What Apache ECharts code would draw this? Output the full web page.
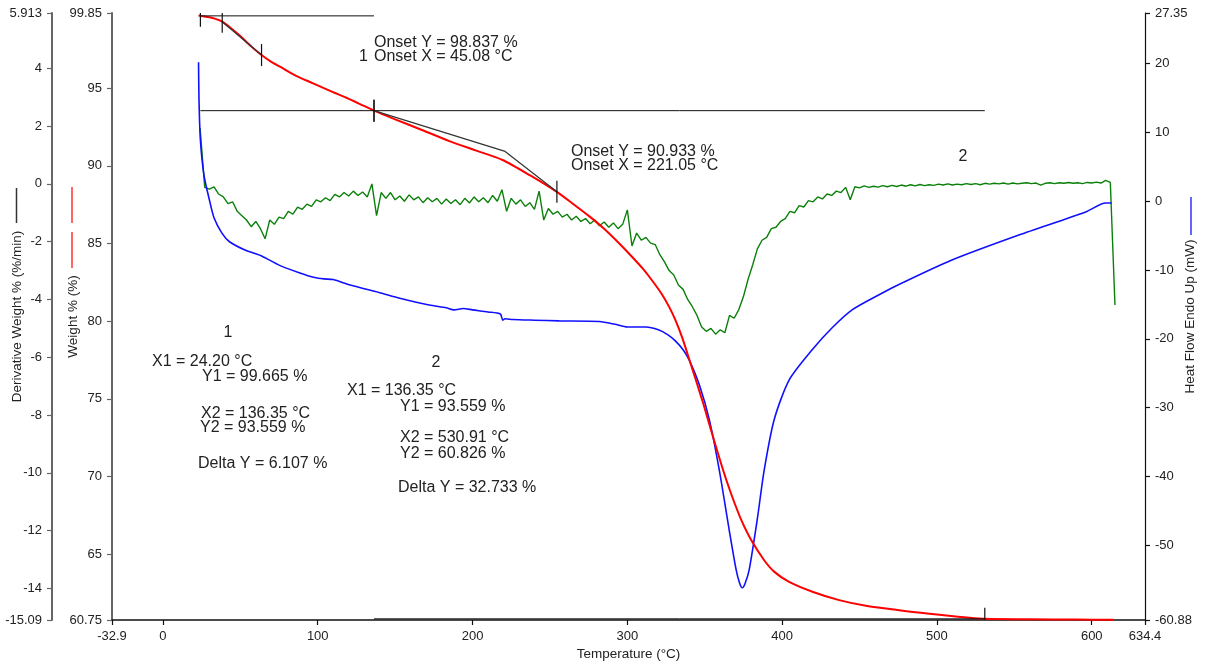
<!DOCTYPE html>
<html>
<head>
<meta charset="utf-8">
<title>TGA / DSC</title>
<script src="https://cdn.jsdelivr.net/npm/echarts@6/dist/echarts.min.js"></script>
<style>
  html, body { margin: 0; padding: 0; background: #ffffff; }
  #chart { width: 1205px; height: 668px; }
</style>
</head>
<body>
<div id="chart"></div>
<script>
// ---- axis ticks ----
const tempTicks = [-32.9, 0, 100, 200, 300, 400, 500, 600, 634.4];
const weightTicks = [60.75, 65, 70, 75, 80, 85, 90, 95, 99.85];
const derivTicks = [-15.09, -14, -12, -10, -8, -6, -4, -2, 0, 2, 4, 5.913];
const heatTicks = [-60.88, -50, -40, -30, -20, -10, 0, 10, 20, 27.35];

// ---- weight % (TGA) ----
const weightTemps = [23, 24.2, 30, 34, 38.3, 44, 50.5, 57, 63.7, 70, 75.6, 86, 97, 108, 118.5, 127,
  136.35, 150, 167.7, 185, 202, 219.4, 237, 254.2, 265, 275.5, 285, 294.8, 303, 310, 316, 322,
  327, 331, 335.5, 341, 348.4, 354, 359.4, 364, 369, 374, 380, 388.4, 395, 404.5, 420, 436.8,
  455, 475.5, 500, 530.91, 560, 590, 614];
const weightPct = [99.70, 99.665, 99.58, 99.47, 99.29, 98.87, 98.32, 97.70, 97.14, 96.70, 96.39, 95.80,
  95.32, 94.83, 94.39, 94.00, 93.559, 93.00, 92.30, 91.60, 91.00, 90.38, 89.40, 88.34, 87.55, 86.75,
  85.95, 85.00, 84.15, 83.38, 82.62, 81.78, 80.92, 80.08, 78.92, 77.22, 74.90, 73.00, 71.20, 69.75,
  68.35, 67.10, 65.90, 64.60, 63.85, 63.20, 62.55, 62.03, 61.65, 61.38, 61.10, 60.826, 60.80, 60.78, 60.76];

// ---- heat flow endo up (mW) ----
const heatTemps = [23, 23.3, 24.2, 26.5, 30, 33, 38, 43, 53, 64, 75, 88, 98, 104, 110, 121, 140, 153,
  172, 183, 188, 194, 200, 210, 218, 219.5, 221, 226, 240, 256, 282, 292, 300, 312, 320, 326, 331,
  336, 340, 346.5, 353, 359.4, 365.8, 370.3, 372.5, 374.2, 376, 378.7, 383.9, 388.4, 394.8, 404.5,
  419.4, 432.3, 445.2, 462.6, 477.4, 509.7, 552.9, 596.1, 609, 612.9];
const heatFlow = [20.2, 14.7, 8.9, 3.8, 0.2, -2.4, -4.6, -5.9, -7.1, -8.0, -9.3, -10.4, -11.1, -11.3,
  -11.4, -12.2, -13.3, -14.1, -15.1, -15.5, -15.8, -15.6, -15.8, -16.1, -16.4, -17.3, -17.1, -17.2,
  -17.3, -17.4, -17.5, -17.9, -18.3, -18.3, -18.7, -19.4, -20.3, -21.6, -23.1, -26.7, -31.8, -39.1,
  -47.8, -53.6, -55.5, -56.2, -55.6, -53.6, -46.3, -39.1, -31.8, -26.0, -21.6, -18.4, -15.8, -13.6,
  -11.9, -8.55, -4.92, -1.57, -0.27, -0.27];

// ---- derivative weight % (%/min), sampled every 3 °C ----
const derivTempStart = 24;
const derivTempStep = 3;
const derivRate = [
  1.93, -0.12, -0.18, -0.10, -0.35, -0.45, -0.68, -0.62, -0.95, -1.10,
  -1.25, -1.48, -1.30, -1.55, -1.90, -1.25, -1.40, -1.15, -1.20, -0.95,
  -1.05, -0.80, -0.88, -0.70, -0.78, -0.55, -0.62, -0.48, -0.58, -0.36,
  -0.45, -0.30, -0.42, -0.25, -0.40, -0.28, -0.45, 0.00, -1.10, -0.30,
  -0.50, -0.30, -0.55, -0.42, -0.60, -0.38, -0.55, -0.45, -0.65, -0.48,
  -0.62, -0.50, -0.70, -0.52, -0.68, -0.55, -0.72, -0.50, -0.66, -0.45,
  -0.62, -0.48, -0.65, -0.40, -0.60, -0.20, -0.95, -0.50, -0.70, -0.55,
  -0.78, -0.65, -0.88, -0.25, -1.25, -0.85, -1.05, -0.95, -1.15, -1.05,
  -1.25, -1.12, -1.30, -1.20, -1.38, -1.25, -1.45, -1.32, -1.50, -1.35,
  -1.55, -1.40, -0.90, -2.15, -1.70, -1.95, -1.85, -2.05, -2.10, -2.45,
  -2.70, -3.00, -3.15, -3.50, -3.65, -4.00, -4.25, -4.55, -4.95, -5.10,
  -5.00, -5.20, -5.05, -5.15, -4.55, -4.65, -4.35, -3.90, -3.30, -2.80,
  -2.25, -1.95, -1.85, -1.55, -1.50, -1.30, -1.20, -0.95, -1.00, -0.75,
  -0.80, -0.58, -0.62, -0.45, -0.52, -0.35, -0.40, -0.25, -0.30, -0.12,
  -0.55, -0.10, -0.14, -0.07, -0.12, -0.08, -0.11, -0.06, -0.10, -0.05,
  -0.09, -0.04, -0.08, -0.03, -0.07, -0.02, -0.06, -0.03, -0.05, -0.01,
  -0.04, 0.00, -0.04, -0.01, -0.03, 0.01, -0.02, 0.01, -0.03, 0.02,
  -0.01, 0.02, 0.00, 0.03, -0.01, 0.03, 0.00, 0.02, 0.04, 0.01,
  0.03, -0.04, 0.02, 0.04, 0.01, 0.04, 0.02, 0.05, 0.02, 0.04,
  0.01, 0.05, 0.03, 0.06, 0.03, 0.12, 0.05, -4.19
];

// ---- step analysis results ----
const stepX1 = [24.20, 136.35];
const stepY1 = [99.665, 93.559];
const stepX2 = [136.35, 530.91];
const stepY2 = [93.559, 60.826];
const stepDelta = [6.107, 32.733];
const onsetX = [45.08, 221.05];
const onsetY = [98.837, 90.933];
// tangent construction points on the weight curve
const tangent1Temps = [38.3, 63.7];
const tangent1Weights = [99.29, 97.14];
const tangent2EndTemp = 254.5;
const tangent2EndWeight = 88.33;

const FONT = '"Liberation Sans", Arial, Helvetica, sans-serif';
const INK = '#222222';

const pairs = (xs, ys) => xs.map((x, i) => [x, ys[i]]);
const derivData = derivRate.map((v, i) => [derivTempStart + i * derivTempStep, v]);

// baselines of each step: horizontal at Y1 and Y2 spanning X1..X2
const baselineSegments = [];
for (let i = 0; i < stepX1.length; i++) {
  baselineSegments.push([[stepX1[i], stepY1[i]], [stepX2[i], stepY1[i]]]);
  baselineSegments.push([[stepX1[i], stepY2[i]], [stepX2[i], stepY2[i]]]);
}
const tangentSegments = [
  pairs(tangent1Temps, tangent1Weights),
  [[stepX1[1], stepY1[1]], [onsetX[1], onsetY[1]], [tangent2EndTemp, tangent2EndWeight]]
];
// vertical cursor marks at the step limits and tangent points
const cursorMarks = [];
for (let i = 0; i < stepX1.length; i++) {
  cursorMarks.push([stepX1[i], stepY1[i]]);
  cursorMarks.push([stepX2[i], stepY2[i]]);
}
pairs(tangent1Temps, tangent1Weights).forEach(p => cursorMarks.push(p));
cursorMarks.push([tangent2EndTemp, tangent2EndWeight]);

const lineSeries = (data, color, width, yAxisIndex, z) => ({
  type: 'line', data, xAxisIndex: 0, yAxisIndex, symbol: 'none', silent: true,
  lineStyle: { color, width }, z, animation: false
});

const series = [
  lineSeries(derivData, '#0a800a', 1.4, 1, 2),
  Object.assign(lineSeries(pairs(heatTemps, heatFlow), '#1010ff', 1.6, 2, 3), { smooth: 0.25 }),
  Object.assign(lineSeries(pairs(weightTemps, weightPct), '#ff0000', 2, 0, 4), { smooth: 0.25 })
];
baselineSegments.forEach(seg => series.push(lineSeries(seg, '#111111', 1, 0, 5)));
tangentSegments.forEach(seg => series.push(lineSeries(seg, '#333333', 1.2, 0, 6)));
series.push({
  type: 'custom', xAxisIndex: 0, yAxisIndex: 0, data: cursorMarks, clip: true, silent: true,
  animation: false, z: 7,
  renderItem: (params, api) => {
    const p = api.coord([api.value(0), api.value(1)]);
    return {
      type: 'line',
      shape: { x1: p[0], y1: p[1] - 11, x2: p[0], y2: p[1] + 11 },
      style: { stroke: '#111111', lineWidth: 1.2 }
    };
  }
});

// annotation text
const texts = [];
const addText = (text, x, y, align) => texts.push({
  type: 'text', x, y, silent: true, z: 100,
  style: { text, font: '16px ' + FONT, fill: INK, textAlign: align || 'left', textVerticalAlign: 'middle' }
});
addText(`Onset Y = ${onsetY[0].toFixed(3)} %`, 374, 43);
addText('1', 359, 57);
addText(`Onset X = ${onsetX[0].toFixed(2)} °C`, 374, 57);
addText(`Onset Y = ${onsetY[1].toFixed(3)} %`, 571, 152);
addText(`Onset X = ${onsetX[1].toFixed(2)} °C`, 571, 166);
addText('2', 963, 157, 'center');

const blockPos = [
  { n: [228, 333], x1: [152, 362], y1: [202, 377], x2: [201, 414], y2: [200, 428], d: [198, 464] },
  { n: [436, 363], x1: [347, 391], y1: [400, 407], x2: [400, 438], y2: [400, 454], d: [398, 488] }
];
blockPos.forEach((b, i) => {
  addText(String(i + 1), b.n[0], b.n[1], 'center');
  addText(`X1 = ${stepX1[i].toFixed(2)} °C`, b.x1[0], b.x1[1]);
  addText(`Y1 = ${stepY1[i].toFixed(3)} %`, b.y1[0], b.y1[1]);
  addText(`X2 = ${stepX2[i].toFixed(2)} °C`, b.x2[0], b.x2[1]);
  addText(`Y2 = ${stepY2[i].toFixed(3)} %`, b.y2[0], b.y2[1]);
  addText(`Delta Y = ${stepDelta[i].toFixed(3)} %`, b.d[0], b.d[1]);
});

// colour keys beside the axis titles
const key = (x, y1, y2, color) => ({
  type: 'line', silent: true, z: 100,
  shape: { x1: x, y1, x2: x, y2 },
  style: { stroke: color, lineWidth: 1.5 }
});
const keys = [
  key(16.5, 188, 223, '#333333'),
  key(72, 187, 223, '#ff3333'),
  key(72, 232, 268, '#ff3333'),
  key(1191, 197, 235, '#3333ff')
];

const yAxisBase = (ticks, min, max, axisColor, axisWidth) => ({
  type: 'value', min, max, splitLine: { show: false },
  axisLine: { show: true, onZero: false, lineStyle: { color: axisColor, width: axisWidth } },
  axisTick: { show: true, inside: false, length: 5, customValues: ticks, lineStyle: { color: axisColor, width: 1.2 } },
  axisLabel: { customValues: ticks, formatter: v => String(v), fontSize: 13, color: INK, fontFamily: FONT, margin: 10 },
  nameLocation: 'middle', nameRotate: 90, nameMoveOverlap: false,
  nameTextStyle: { fontSize: 13.5, color: INK, fontFamily: FONT }
});

const chart = echarts.init(document.getElementById('chart'), null, { renderer: 'canvas' });
chart.setOption({
  backgroundColor: '#ffffff',
  animation: false,
  grid: { left: 112, right: 60, top: 13, bottom: 48, containLabel: false, outerBoundsMode: 'none' },
  xAxis: {
    type: 'value', min: -32.9, max: 634.4, splitLine: { show: false },
    axisLine: { show: true, onZero: false, lineStyle: { color: '#111111', width: 1.5 } },
    axisTick: { show: true, inside: false, length: 5, customValues: tempTicks, lineStyle: { color: '#111111', width: 1.2 } },
    axisLabel: { customValues: tempTicks, formatter: v => String(v), fontSize: 13, color: INK, fontFamily: FONT, margin: 10 },
    name: 'Temperature (°C)', nameLocation: 'middle', nameGap: 27, nameMoveOverlap: false,
    nameTextStyle: { fontSize: 13.5, color: INK, fontFamily: FONT }
  },
  yAxis: [
    Object.assign(yAxisBase(weightTicks, 60.75, 99.85, '#666666', 2), {
      position: 'left', offset: 0, name: 'Weight % (%)', nameGap: 32
    }),
    Object.assign(yAxisBase(derivTicks, -15.09, 5.913, '#666666', 2), {
      position: 'left', offset: 60, name: 'Derivative Weight % (%/min)', nameGap: 28
    }),
    Object.assign(yAxisBase(heatTicks, -60.88, 27.35, '#111111', 1.2), {
      position: 'right', offset: 0, name: 'Heat Flow Endo Up (mW)', nameGap: 38
    })
  ],
  series,
  graphic: { elements: texts.concat(keys) }
});
</script>
</body>
</html>
